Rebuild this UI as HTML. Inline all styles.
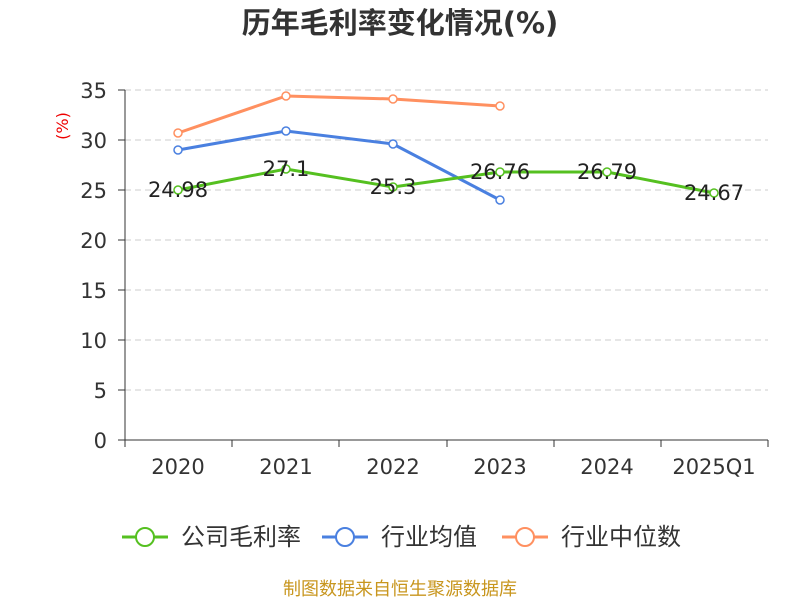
<!DOCTYPE html>
<html><head><meta charset="utf-8"><style>body{margin:0;background:#fff}</style></head><body>
<svg width="800" height="600" xmlns="http://www.w3.org/2000/svg" font-family="DejaVu Sans, Noto Sans CJK SC, sans-serif">
<text x="400" y="33" text-anchor="middle" font-size="29" font-weight="bold" fill="#333">历年毛利率变化情况(%)</text>
<g stroke="#ccc" stroke-dasharray="6,4" stroke-width="1">
<line x1="125" x2="768" y1="90" y2="90"/><line x1="125" x2="768" y1="140" y2="140"/><line x1="125" x2="768" y1="190" y2="190"/><line x1="125" x2="768" y1="240" y2="240"/><line x1="125" x2="768" y1="290" y2="290"/><line x1="125" x2="768" y1="340" y2="340"/><line x1="125" x2="768" y1="390" y2="390"/>
</g>
<g stroke="#333" stroke-width="1">
<line x1="125" x2="125" y1="90" y2="440"/><line x1="125" x2="768" y1="440" y2="440"/>
<line x1="118" x2="125" y1="90" y2="90"/><line x1="118" x2="125" y1="140" y2="140"/><line x1="118" x2="125" y1="190" y2="190"/><line x1="118" x2="125" y1="240" y2="240"/><line x1="118" x2="125" y1="290" y2="290"/><line x1="118" x2="125" y1="340" y2="340"/><line x1="118" x2="125" y1="390" y2="390"/><line x1="118" x2="125" y1="440" y2="440"/>
<line x1="125" x2="125" y1="440" y2="447"/><line x1="232" x2="232" y1="440" y2="447"/><line x1="339" x2="339" y1="440" y2="447"/><line x1="447" x2="447" y1="440" y2="447"/><line x1="554" x2="554" y1="440" y2="447"/><line x1="661" x2="661" y1="440" y2="447"/><line x1="768" x2="768" y1="440" y2="447"/>
</g>
<g font-size="21" fill="#333" text-anchor="end">
<text x="107" y="98">35</text><text x="107" y="148">30</text><text x="107" y="198">25</text><text x="107" y="248">20</text><text x="107" y="298">15</text><text x="107" y="348">10</text><text x="107" y="398">5</text><text x="107" y="448">0</text>
</g>
<g font-size="21" fill="#333" text-anchor="middle">
<text x="178" y="474">2020</text><text x="286" y="474">2021</text><text x="393" y="474">2022</text><text x="500" y="474">2023</text><text x="607" y="474">2024</text><text x="714" y="474">2025Q1</text>
</g>
<text transform="translate(68,126) rotate(-90)" font-size="16" fill="#e00" text-anchor="middle">(%)</text>
<polyline fill="none" stroke="#ff9060" stroke-width="3" points="178,133 286,96 393,99 500,106"/>
<polyline fill="none" stroke="#4a80e0" stroke-width="3" points="178,150 286,131 393,144 500,200"/>
<polyline fill="none" stroke="#55c020" stroke-width="3" points="178,190 286,169 393,187 500,172 607,172 714,193"/>
<g fill="#fff" stroke-width="1.5">
<g stroke="#ff9060"><circle cx="178" cy="133" r="4"/><circle cx="286" cy="96" r="4"/><circle cx="393" cy="99" r="4"/><circle cx="500" cy="106" r="4"/></g>
<g stroke="#4a80e0"><circle cx="178" cy="150" r="4"/><circle cx="286" cy="131" r="4"/><circle cx="393" cy="144" r="4"/><circle cx="500" cy="200" r="4"/></g>
<g stroke="#55c020"><circle cx="178" cy="190" r="4"/><circle cx="286" cy="169" r="4"/><circle cx="393" cy="187" r="4"/><circle cx="500" cy="172" r="4"/><circle cx="607" cy="172" r="4"/><circle cx="714" cy="193" r="4"/></g>
</g>
<g font-size="21" fill="#222" text-anchor="middle">
<text x="178" y="197">24.98</text><text x="286" y="176">27.1</text><text x="393" y="194">25.3</text><text x="500" y="179">26.76</text><text x="607" y="179">26.79</text><text x="714" y="200">24.67</text>
</g>
<g font-size="24" fill="#333">
<line x1="122" x2="168" y1="537" y2="537" stroke="#55c020" stroke-width="3"/><circle cx="145" cy="537" r="9" fill="#fff" stroke="#55c020" stroke-width="2"/><text x="181" y="545">公司毛利率</text>
<line x1="322" x2="368" y1="537" y2="537" stroke="#4a80e0" stroke-width="3"/><circle cx="345" cy="537" r="9" fill="#fff" stroke="#4a80e0" stroke-width="2"/><text x="381" y="545">行业均值</text>
<line x1="502" x2="548" y1="537" y2="537" stroke="#ff9060" stroke-width="3"/><circle cx="525" cy="537" r="9" fill="#fff" stroke="#ff9060" stroke-width="2"/><text x="561" y="545">行业中位数</text>
</g>
<text x="400" y="595" text-anchor="middle" font-size="18" fill="#c8961e">制图数据来自恒生聚源数据库</text>
</svg>
</body></html>
